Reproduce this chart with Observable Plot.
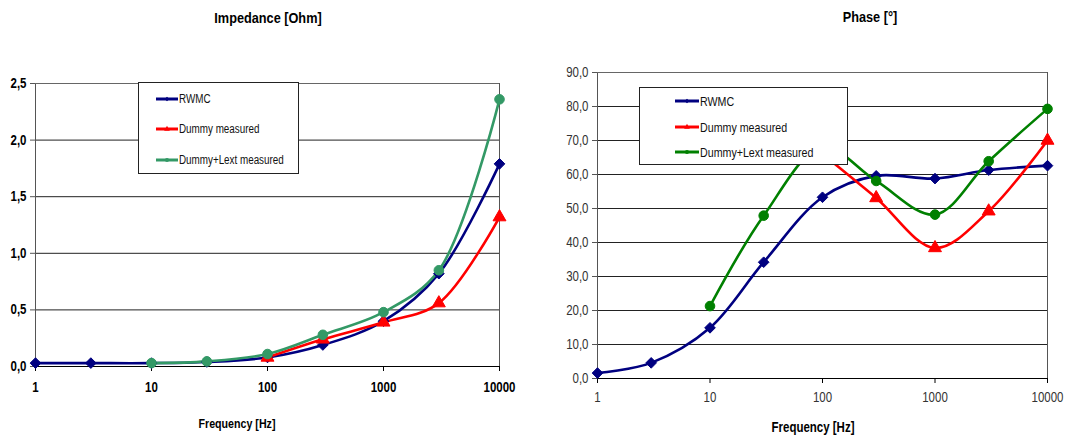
<!DOCTYPE html>
<html>
<head>
<meta charset="utf-8">
<script src="https://cdn.jsdelivr.net/npm/d3@7"></script>
<script src="https://cdn.jsdelivr.net/npm/@observablehq/plot@0.6"></script>
<style>
  body { margin: 0; background: #fff; }
  #wrap { position: relative; width: 1092px; height: 441px; overflow: hidden;
          font-family: 'Liberation Sans', Arial, sans-serif; }
  .abs { position: absolute; white-space: nowrap; }
  .title { font-weight: bold; font-size: 15.5px; color: #000; transform: translate(-50%, -50%) scaleX(0.82); }
  .xlab { font-weight: bold; color: #000; transform: translate(-50%, -50%) scaleX(0.82); }
  .legend { background: #fff; border: 1px solid #222; box-sizing: border-box; }
  .legend .row { position: absolute; display: flex; align-items: center; }
  .legend svg { display: block; }
  .legend span { display: inline-block; transform: scaleX(0.82); transform-origin: 0 50%; }
</style>
</head>
<body>
<div id="wrap"></div>
<script>
// ---------- data ----------
const seriesNames = ["RWMC", "Dummy measured", "Dummy+Lext measured"];
const freqTicks = [1, 10, 100, 1000, 10000];

// Impedance [Ohm]
const impRWMCFreq = [1, 3, 10, 30, 100, 300, 1000, 3000, 10000];
const impRWMC     = [0.03, 0.03, 0.03, 0.04, 0.08, 0.19, 0.40, 0.82, 1.79];
const impDummyFreq = [100, 300, 1000, 3000, 10000];
const impDummy     = [0.08, 0.24, 0.39, 0.56, 1.32];
const impLextFreq = [10, 30, 100, 300, 1000, 3000, 10000];
const impLext     = [0.03, 0.045, 0.11, 0.28, 0.48, 0.85, 2.36];
const impTicks = [0, 0.5, 1.0, 1.5, 2.0, 2.5];

// Phase [°]
const phRWMCFreq = [1, 3, 10, 30, 100, 300, 1000, 3000, 10000];
const phRWMC     = [1.6, 4.6, 14.9, 34.2, 53.3, 59.6, 58.8, 61.3, 62.6];
const phDummyFreq = [100, 300, 1000, 3000, 10000];
const phDummy     = [66, 53.1, 38.4, 49.2, 70.0];
const phLextFreq = [10, 30, 100, 300, 1000, 3000, 10000];
const phLext     = [21.3, 47.9, 68, 58.1, 48.2, 63.9, 79.3];
const phTicks = [0, 10, 20, 30, 40, 50, 60, 70, 80, 90];

// ---------- helpers ----------
function rows(name, fs, vs) { return fs.map((f, i) => ({series: name, f, v: vs[i]})); }
const fmt1 = d => d.toFixed(1).replace(".", ",");
const symbols = ["diamond2", "triangle", "circle"];
const wrap = document.getElementById("wrap");

function addDiv(cls, text, left, top, extra) {
  const d = document.createElement("div");
  d.className = "abs " + cls;
  d.textContent = text;
  d.style.left = left + "px";
  d.style.top = top + "px";
  if (extra) Object.assign(d.style, extra);
  wrap.appendChild(d);
  return d;
}

function makeChart(opts) {
  const data = [
    ...rows(seriesNames[0], opts.f[0], opts.v[0]),
    ...rows(seriesNames[1], opts.f[1], opts.v[1]),
    ...rows(seriesNames[2], opts.f[2], opts.v[2])
  ];
  const svg = Plot.plot({
    width: 546,
    height: 441,
    marginLeft: opts.mL, marginRight: opts.mR, marginTop: opts.mT, marginBottom: opts.mB,
    style: {fontFamily: "'Liberation Sans', Arial, sans-serif",
            fontSize: "14px", fontWeight: opts.tickWeight, color: opts.tickColor, background: "transparent"},
    x: {type: "log", domain: [1, 10000]},
    y: {domain: [opts.yTicks[0], opts.yTicks[opts.yTicks.length - 1]]},
    color: {domain: seriesNames, range: opts.colors},
    symbol: {domain: seriesNames, range: symbols},
    marks: [
      Plot.ruleY(opts.yTicks, {stroke: "#222", strokeWidth: 1, strokeOpacity: 1}),
      Plot.ruleX([10000], {stroke: "#555", strokeWidth: 1}),
      Plot.ruleX([1], {stroke: "#555", strokeWidth: 1}),
      Plot.ruleY([opts.yTicks[opts.yTicks.length - 1]], {stroke: "#666"}),
      Plot.ruleY([0], {stroke: "#000", strokeWidth: 1.2}),
      Plot.axisY({ticks: opts.yTicks, tickFormat: fmt1, tickSize: 5, tickPadding: 4, label: null, stroke: "#555"}),
      Plot.axisX({ticks: freqTicks, tickFormat: d => String(d), tickSize: 5, tickPadding: opts.xPad, label: null, stroke: "#000"}),
      Plot.line(data, {x: "f", y: "v", z: "series", stroke: "series", strokeWidth: 2.6, curve: "catmull-rom"}),
      Plot.dot(data, {x: "f", y: "v", fill: "series", stroke: "series", symbol: "series", r: opts.r, strokeWidth: 1})
    ]
  });
  // condense tick labels horizontally (Arial Narrow look)
  svg.querySelectorAll("g[aria-label$='tick label'] text").forEach(t => {
    const tr = t.getAttribute("transform") || "";
    t.setAttribute("transform", tr + " scale(0.82,1)");
  });
  svg.style.position = "absolute";
  svg.style.left = opts.left + "px";
  svg.style.top = "0px";
  wrap.appendChild(svg);
}

function makeLegend(o) {
  const box = document.createElement("div");
  box.className = "abs legend";
  Object.assign(box.style, {left: o.left + "px", top: o.top + "px", width: o.w + "px", height: o.h + "px"});
  seriesNames.forEach((name, i) => {
    const row = document.createElement("div");
    row.className = "row";
    row.style.left = o.sx + "px";
    row.style.top = (o.rowY[i] - 8) + "px";
    row.style.height = "16px";
    const ns = "http://www.w3.org/2000/svg";
    const s = document.createElementNS(ns, "svg");
    s.setAttribute("width", o.lw); s.setAttribute("height", 10);
    const ln = document.createElementNS(ns, "line");
    ln.setAttribute("x1", 0); ln.setAttribute("x2", o.lw); ln.setAttribute("y1", 5); ln.setAttribute("y2", 5);
    ln.setAttribute("stroke", o.colors[i]); ln.setAttribute("stroke-width", 3);
    s.appendChild(ln);
    const sym = d3.symbol([d3.symbolDiamond2, d3.symbolTriangle, d3.symbolCircle][i], 14)();
    const p = document.createElementNS(ns, "path");
    p.setAttribute("d", sym); p.setAttribute("fill", o.colors[i]);
    p.setAttribute("transform", `translate(${o.lw / 2},5)`);
    s.appendChild(p);
    row.appendChild(s);
    const t = document.createElement("span");
    t.textContent = name;
    t.style.fontSize = o.fs + "px";
    t.style.color = "#111";
    t.style.marginLeft = "1px";
    row.appendChild(t);
    box.appendChild(row);
  });
  wrap.appendChild(box);
}

// ---------- left chart: Impedance ----------
const leftColors = ["#000080", "#ff0000", "#339966"];
makeChart({
  left: 0, mL: 35, mR: 47, mT: 83, mB: 75,
  f: [impRWMCFreq, impDummyFreq, impLextFreq], v: [impRWMC, impDummy, impLext],
  yTicks: impTicks, colors: leftColors, tickWeight: "bold", tickColor: "#000", xPad: 11, r: 4.8
});
addDiv("title", "Impedance [Ohm]", 268, 18);
addDiv("xlab", "Frequency [Hz]", 237, 423, {fontSize: "13px"});
makeLegend({left: 138, top: 82, w: 161, h: 92, sx: 17, rowY: [16, 46, 77], lw: 22, fs: 12, colors: leftColors});

// ---------- right chart: Phase ----------
const rightColors = ["#000080", "#ff0000", "#008000"];
makeChart({
  left: 546, mL: 51, mR: 45, mT: 72, mB: 63,
  f: [phRWMCFreq, phDummyFreq, phLextFreq], v: [phRWMC, phDummy, phLext],
  yTicks: phTicks, colors: rightColors, tickWeight: "normal", tickColor: "#333", xPad: 9, r: 4.8
});
addDiv("title", "Phase [°]", 870, 17);
addDiv("xlab", "Frequency [Hz]", 813, 427, {fontSize: "14px"});
makeLegend({left: 639, top: 87, w: 209, h: 78, sx: 35, rowY: [13, 39, 64], lw: 24, fs: 13, colors: rightColors});
</script>
</body>
</html>
